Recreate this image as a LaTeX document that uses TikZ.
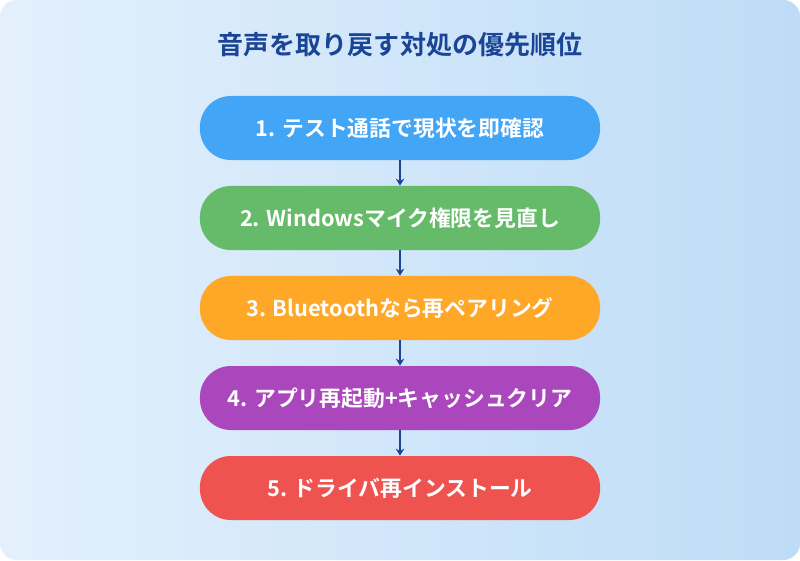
\documentclass[tikz,border=0pt]{standalone}
\usepackage{fontspec}
\setmainfont{Noto Sans CJK JP}[BoldFont={* Bold}]
\usetikzlibrary{positioning,arrows.meta}
\definecolor{bgtop}{HTML}{E3F0FC}
\definecolor{bgbot}{HTML}{BEDCF7}
\definecolor{titleblue}{HTML}{1A4597}
\definecolor{stepa}{HTML}{42A5F5}
\definecolor{stepb}{HTML}{66BB6A}
\definecolor{stepc}{HTML}{FFA726}
\definecolor{stepd}{HTML}{AB47BC}
\definecolor{stepe}{HTML}{EF5350}
\tikzset{
  pill/.style={rounded corners=22pt, minimum width=10cm, minimum height=1.6cm,
    text=white, font=\bfseries\fontsize{15.5pt}{18pt}\selectfont},
  link/.style={-{Stealth[length=5pt,width=6pt]}, draw=titleblue, line width=1.5pt}
}
\begin{document}
\begin{tikzpicture}[x=0.025cm,y=-0.025cm]
  % background
  \shade[rounded corners=12pt, shading angle=135, left color=bgtop, right color=bgbot]
    (0,0) rectangle (800,560);
  \useasboundingbox (0,0) rectangle (800,560);
  \node[text=titleblue, font=\bfseries\fontsize{18.5pt}{22pt}\selectfont] (title) at (400,45) {音声を取り戻す対処の優先順位};
  \node[pill, fill=stepa] (s1) at (400,128) {1. テスト通話で現状を即確認};
  \node[pill, fill=stepb] (s2) at (400,218) {2. Windowsマイク権限を見直し};
  \node[pill, fill=stepc] (s3) at (400,308) {3. Bluetoothなら再ペアリング};
  \node[pill, fill=stepd] (s4) at (400,398) {4. アプリ再起動+キャッシュクリア};
  \node[pill, fill=stepe] (s5) at (400,488) {5. ドライバ再インストール};
  \foreach \a/\b in {s1/s2,s2/s3,s3/s4,s4/s5}
    \draw[link] (\a) -- (\b);
\end{tikzpicture}
\end{document}
